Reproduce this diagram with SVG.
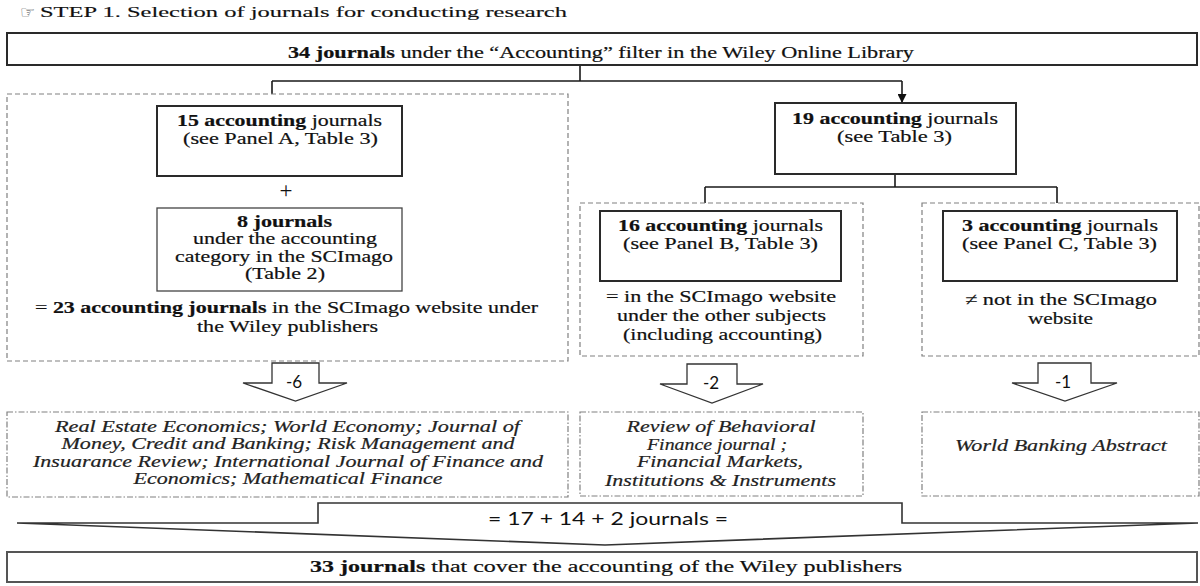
<svg xmlns="http://www.w3.org/2000/svg" width="1200" height="586" viewBox="0 0 1200 586">
<defs>
<style>
.t{font-family:"Liberation Serif","Times New Roman",serif;font-size:16.5px;fill:#111;stroke:#111;stroke-width:0.2;text-anchor:middle}
.b{font-weight:bold}
.i{font-style:italic;fill:#222;stroke:#222}
.s{font-family:Lato,"Liberation Sans",sans-serif;font-size:17px;fill:#111;text-anchor:middle}
.solid{fill:#fff;stroke:#2a2a2a;stroke-width:2}
.thin{fill:#fff;stroke:#444;stroke-width:1.3}
.dash{fill:none;stroke:#808080;stroke-width:1.2;stroke-dasharray:5 3}
.dd{fill:none;stroke:#808080;stroke-width:1.2;stroke-dasharray:6 2 1.5 2}
.ln{fill:none;stroke:#1a1a1a;stroke-width:1.6}
.arr{fill:#fff;stroke:#333;stroke-width:1.3;stroke-linejoin:miter}
</style>
<marker id="ah" viewBox="0 0 10 10" refX="10" refY="5" markerWidth="9" markerHeight="9" markerUnits="userSpaceOnUse" orient="auto"><path d="M0,0 L10,5 L0,10 z" fill="#111"/></marker>
</defs>
<rect width="1200" height="586" fill="#fff"/>

<g id="title">
<text x="20" y="18" style="font-family:'DejaVu Sans',sans-serif;font-size:17px;fill:#444">☞</text>
<text x="40" y="17" style="font-family:'Liberation Serif',serif;font-size:15.5px;fill:#111;stroke:#111;stroke-width:0.15" textLength="527" lengthAdjust="spacingAndGlyphs">STEP 1. Selection of journals for conducting research</text>
</g>

<g id="connectors">
<path class="ln" d="M580,65 V81 M272,81 H902 M272,81 V94"/>
<path class="ln" d="M902,81 V103" marker-end="url(#ah)"/>
<path class="ln" d="M895,174 V187 M705,187 H1057 M705,187 V203 M1057,187 V203"/>
</g>

<g id="top">
<rect class="solid" x="7" y="33" width="1190" height="32"/>
<text class="t" x="601" y="58" textLength="626" lengthAdjust="spacingAndGlyphs"><tspan class="b">34 journals</tspan> under the “Accounting” filter in the Wiley Online Library</text>
</g>

<g id="panelA">
<rect class="dash" x="7" y="94" width="561" height="267"/>
<rect class="solid" x="157" y="106" width="245" height="70"/>
<text class="t" x="279.5" y="126" textLength="205" lengthAdjust="spacingAndGlyphs"><tspan class="b">15 accounting</tspan> journals</text>
<text class="t" x="280.5" y="144" textLength="195" lengthAdjust="spacingAndGlyphs">(see Panel A, Table 3)</text>
<text x="286" y="198" style="font-family:'Liberation Serif',serif;font-size:23px;fill:#111;text-anchor:middle">+</text>
<rect class="thin" x="157" y="208" width="245" height="83"/>
<text class="t b" x="284.5" y="227" textLength="95" lengthAdjust="spacingAndGlyphs">8 journals</text>
<text class="t" x="285" y="244" textLength="184" lengthAdjust="spacingAndGlyphs">under the accounting</text>
<text class="t" x="284" y="262" textLength="218" lengthAdjust="spacingAndGlyphs">category in the SCImago</text>
<text class="t" x="285" y="279" textLength="80" lengthAdjust="spacingAndGlyphs">(Table 2)</text>
<text class="t" x="286.5" y="313" textLength="503" lengthAdjust="spacingAndGlyphs">= <tspan class="b">23 accounting journals</tspan> in the SCImago website under</text>
<text class="t" x="287.5" y="332" textLength="181" lengthAdjust="spacingAndGlyphs">the Wiley publishers</text>
</g>

<g id="total19">
<rect class="solid" x="775" y="103" width="241" height="71"/>
<text class="t" x="895" y="124" textLength="206" lengthAdjust="spacingAndGlyphs"><tspan class="b">19 accounting</tspan> journals</text>
<text class="t" x="894.5" y="142" textLength="115" lengthAdjust="spacingAndGlyphs">(see Table 3)</text>
</g>

<g id="panelB">
<rect class="dash" x="580" y="203" width="283" height="153"/>
<rect class="solid" x="600" y="211" width="241" height="70"/>
<text class="t" x="720.5" y="231" textLength="205" lengthAdjust="spacingAndGlyphs"><tspan class="b">16 accounting</tspan> journals</text>
<text class="t" x="720.5" y="249" textLength="195" lengthAdjust="spacingAndGlyphs">(see Panel B, Table 3)</text>
<text class="t" x="721" y="302" textLength="230" lengthAdjust="spacingAndGlyphs">= in the SCImago website</text>
<text class="t" x="721.5" y="321" textLength="209" lengthAdjust="spacingAndGlyphs">under the other subjects</text>
<text class="t" x="722.5" y="340" textLength="199" lengthAdjust="spacingAndGlyphs">(including accounting)</text>
</g>

<g id="panelC">
<rect class="dash" x="922" y="203" width="277" height="153"/>
<rect class="solid" x="943" y="211" width="234" height="70"/>
<text class="t" x="1060" y="231" textLength="196" lengthAdjust="spacingAndGlyphs"><tspan class="b">3 accounting</tspan> journals</text>
<text class="t" x="1059.5" y="249" textLength="195" lengthAdjust="spacingAndGlyphs">(see Panel C, Table 3)</text>
<text class="t" x="1061" y="305" textLength="192" lengthAdjust="spacingAndGlyphs">≠ not in the SCImago</text>
<text class="t" x="1060.5" y="324" textLength="65" lengthAdjust="spacingAndGlyphs">website</text>
</g>

<g id="minus6">
<polygon class="arr" points="272,363 319,363 319,383 347,383 295.5,401 243,383 272,383"/>
<text class="s" x="294" y="388">-6</text>
</g>
<g id="minus2">
<polygon class="arr" points="687,364 737,364 737,384 763,384 712,403 660,384 687,384"/>
<text class="s" x="711" y="389">-2</text>
</g>
<g id="minus1">
<polygon class="arr" points="1038,363 1091,363 1091,383 1117,383 1065,401 1012,383 1038,383"/>
<text class="s" x="1063" y="388">-1</text>
</g>

<g id="excludedA">
<rect class="dd" x="7" y="412" width="561" height="85"/>
<text class="t i" x="287.5" y="432" textLength="465" lengthAdjust="spacingAndGlyphs">Real Estate Economics; World Economy; Journal of</text>
<text class="t i" x="288" y="449" textLength="453" lengthAdjust="spacingAndGlyphs">Money, Credit and Banking; Risk Management and</text>
<text class="t i" x="288" y="467" textLength="510" lengthAdjust="spacingAndGlyphs">Insuarance Review; International Journal of Finance and</text>
<text class="t i" x="288" y="484" textLength="309" lengthAdjust="spacingAndGlyphs">Economics; Mathematical Finance</text>
</g>

<g id="excludedB">
<rect class="dd" x="580" y="412" width="283" height="84"/>
<text class="t i" x="721" y="432" textLength="189" lengthAdjust="spacingAndGlyphs">Review of Behavioral</text>
<text class="t i" x="717" y="450" textLength="140" lengthAdjust="spacingAndGlyphs">Finance journal ;</text>
<text class="t i" x="720" y="467" textLength="166" lengthAdjust="spacingAndGlyphs">Financial Markets,</text>
<text class="t i" x="720.5" y="486" textLength="231" lengthAdjust="spacingAndGlyphs">Institutions &amp; Instruments</text>
</g>

<g id="excludedC">
<rect class="dd" x="922" y="412" width="277" height="84"/>
<text class="t i" x="1061" y="451" textLength="212" lengthAdjust="spacingAndGlyphs">World Banking Abstract</text>
</g>

<g id="sum">
<polygon class="arr" points="318,503 902,503 902,523 1198,523 605,545 17,523 318,523" style="stroke-width:1.6"/>
<text class="s" x="608" y="525" textLength="240" lengthAdjust="spacingAndGlyphs">= 17 + 14 + 2 journals =</text>
</g>

<g id="result">
<rect class="solid" x="7" y="552" width="1190" height="30" style="stroke:#555"/>
<text class="t" x="606" y="572" textLength="592" lengthAdjust="spacingAndGlyphs"><tspan class="b">33 journals</tspan> that cover the accounting of the Wiley publishers</text>
</g>
</svg>
